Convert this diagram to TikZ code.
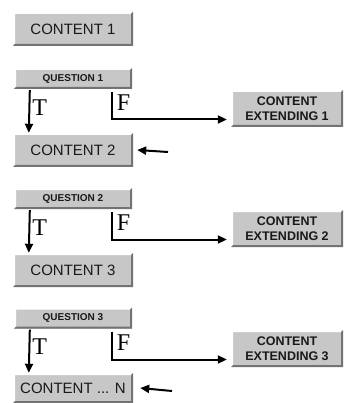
\documentclass[tikz,border=0pt]{standalone}
\usepackage{fontspec}
\setmainfont{Liberation Sans}
\newfontfamily\tfserif{Liberation Serif}
\usetikzlibrary{arrows.meta}

\tikzset{
  bevel/.style={fill=black!22, text=black!90, inner sep=0pt,
    path picture={
      \fill[white] (path picture bounding box.south west) -- (path picture bounding box.north west)
        -- (path picture bounding box.north east) -- ([shift={(-2pt,-2pt)}]path picture bounding box.north east)
        -- ([shift={(2pt,-2pt)}]path picture bounding box.north west) -- ([shift={(2pt,2pt)}]path picture bounding box.south west) -- cycle;
      \fill[black!55] (path picture bounding box.south west) -- (path picture bounding box.south east)
        -- (path picture bounding box.north east) -- ([shift={(-2pt,-2pt)}]path picture bounding box.north east)
        -- ([shift={(-2pt,2pt)}]path picture bounding box.south east) -- ([shift={(2pt,2pt)}]path picture bounding box.south west) -- cycle;
    }},
  content/.style={bevel, minimum width=120pt, minimum height=34pt, font=\fontsize{15}{17}\selectfont},
  question/.style={bevel, minimum width=118pt, minimum height=21pt, font=\bfseries\fontsize{10}{12}\selectfont},
  extend/.style={bevel, minimum width=112pt, minimum height=37pt, align=center,
    font=\bfseries\fontsize{12.5}{15}\selectfont},
  arr/.style={line width=2pt, -{Triangle[length=9pt,width=8pt]}},
  lbl/.style={font=\tfserif\fontsize{24}{24}\selectfont, inner sep=2pt}
}

\begin{document}
\begin{tikzpicture}[x=1pt,y=-1pt]
\useasboundingbox (0,0) rectangle (345,403);
% left column
\node[content] (c1) at (73,29) {CONTENT 1};
\node[question] (q1) at (73,78.5) {QUESTION 1};
\node[content] (c2) at (73,150) {CONTENT 2};
\node[question] (q2) at (73,198.5) {QUESTION 2};
\node[content] (c3) at (73,270) {CONTENT 3};
\node[question] (q3) at (73,318) {QUESTION 3};
\node[content, minimum height=30pt] (cn) at (73,388) {CONTENT ... N};
% right column
\node[extend] (e1) at (287,108.5) {CONTENT\\EXTENDING 1};
\node[extend] (e2) at (287,228.5) {CONTENT\\EXTENDING 2};
\node[extend] (e3) at (287,348.5) {CONTENT\\EXTENDING 3};
% return arrows
\coordinate (r2) at (168,152);
\coordinate (rn) at (172,391);
\draw[arr] (r2) -- ([xshift=4pt]c2.east);
\draw[arr] (rn) -- ([xshift=7pt]cn.east);
% true branches
\draw[arr] ([xshift=16pt,yshift=-1pt]q1.south west) -- node[lbl, right, pos=0.4] {T} ([xshift=16pt]c2.north west);
\draw[arr] ([xshift=16pt,yshift=-1pt]q2.south west) -- node[lbl, right, pos=0.4] {T} ([xshift=16pt]c3.north west);
\draw[arr] ([xshift=16pt,yshift=-1pt]q3.south west) -- node[lbl, right, pos=0.4] {T} ([xshift=16pt]cn.north west);
% false branches
\draw[arr, shorten >=4pt] ([xshift=98pt,yshift=-3pt]q1.south west) |- node[lbl, right, pos=0.2, inner sep=4pt] {F} ([yshift=-11pt]e1.west);
\draw[arr, shorten >=4pt] ([xshift=98pt,yshift=-3pt]q2.south west) |- node[lbl, right, pos=0.2, inner sep=4pt] {F} ([yshift=-11pt]e2.west);
\draw[arr, shorten >=4pt] ([xshift=98pt,yshift=-3pt]q3.south west) |- node[lbl, right, pos=0.2, inner sep=4pt] {F} ([yshift=-11pt]e3.west);
\end{tikzpicture}
\end{document}
